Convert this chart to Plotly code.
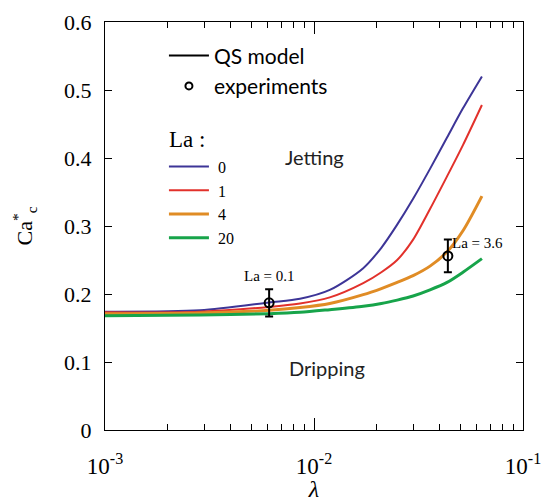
import math
import plotly.graph_objects as go

# ---- data ----
lam_grid = [0.001, 0.00285, 0.0061, 0.00857, 0.0119, 0.0172, 0.021, 0.025, 0.0298, 0.0359, 0.0433, 0.0516, 0.0636]
ca_la0 = [0.174, 0.176, 0.1875, 0.193, 0.206, 0.238, 0.268, 0.302, 0.340, 0.384, 0.430, 0.473, 0.520]
ca_la1 = [0.173, 0.174, 0.181, 0.186, 0.195, 0.216, 0.232, 0.250, 0.280, 0.325, 0.373, 0.419, 0.478]
ca_la4 = [0.171, 0.172, 0.176, 0.180, 0.186, 0.199, 0.208, 0.217, 0.227, 0.241, 0.262, 0.293, 0.344]
ca_la20 = [0.168, 0.169, 0.171, 0.173, 0.177, 0.182, 0.186, 0.191, 0.197, 0.206, 0.217, 0.232, 0.252]
la_labels = ["0", "1", "4", "20"]
colors = ["#3d3597", "#e2312b", "#e08c25", "#17a44a"]
widths = [2, 2, 3, 3]

exp_lam = [0.0061, 0.0437]
exp_ca = [0.187, 0.256]
exp_err = [0.02, 0.024]
exp_labels = ["La = 0.1", "La = 3.6"]

y_ticks = [0, 0.1, 0.2, 0.3, 0.4, 0.5, 0.6]
y_ticktext = ["0", "0.1", "0.2", "0.3", "0.4", "0.5", "0.6"]
x_ticks = [0.001, 0.01, 0.1]
x_ticktext = ["10<sup>-3</sup>", "10<sup>-2</sup>", "10<sup>-1</sup>"]
x_minor = [m * d for d in (0.001, 0.01) for m in range(2, 10)]

serif = "Liberation Serif"
sans = "Lato"

fig = go.Figure()

# legend 1 entries
fig.add_trace(go.Scatter(x=[None], y=[None], mode="lines", line=dict(color="black", width=2),
                         name="QS model", legend="legend"))
fig.add_trace(go.Scatter(x=[None], y=[None], mode="markers",
                         marker=dict(symbol="circle-open", color="black", size=7, line=dict(width=2)),
                         name="experiments", legend="legend"))

series = [ca_la0, ca_la1, ca_la4, ca_la20]
for i, (vals, lab) in enumerate(zip(series, la_labels)):
    fig.add_trace(go.Scatter(
        x=lam_grid, y=vals, mode="lines",
        line=dict(color=colors[i], width=widths[i], shape="spline", smoothing=0.8),
        name=" " + lab, legend="legend2", legendgroup="La",
        legendgrouptitle=dict(text="La :", font=dict(family=serif, size=23, color="black")) if i == 0 else None,
    ))

fig.add_trace(go.Scatter(
    x=exp_lam, y=exp_ca, mode="markers",
    marker=dict(symbol="circle-open", color="black", size=9, line=dict(width=2, color="black")),
    error_y=dict(type="data", array=exp_err, color="black", thickness=2, width=4),
    showlegend=False,
))

fig.add_annotation(x=math.log10(exp_lam[0]), y=exp_ca[0] + 0.040, text=exp_labels[0], showarrow=False,
                   xanchor="center", font=dict(family=serif, size=15, color="black"))
fig.add_annotation(x=math.log10(exp_lam[1]), y=exp_ca[1] + 0.019, text=exp_labels[1], showarrow=False,
                   xanchor="left", xshift=2, font=dict(family=serif, size=15, color="black"))

fig.add_annotation(x=-1.997, y=0.402, text="Jetting", showarrow=False,
                   font=dict(family=sans, size=20, color="#222"))
fig.add_annotation(x=-1.938, y=0.091, text="Dripping", showarrow=False,
                   font=dict(family=sans, size=20, color="#222"))

axis_common = dict(showline=True, linecolor="black", linewidth=1, mirror="ticks",
                   ticks="inside", tickcolor="black", showgrid=False, zeroline=False,
                   automargin=False)

fig.update_xaxes(type="log", range=[-3, -1], tickvals=x_ticks, ticktext=x_ticktext,
                 ticklen=12, tickwidth=1, ticklabelstandoff=15,
                 minor=dict(ticks="inside", ticklen=6, tickcolor="black", showgrid=False,
                            tickmode="array", tickvals=x_minor),
                 tickfont=dict(family=serif, size=23, color="black"),
                 title=dict(text="<i>λ</i>", font=dict(family=serif, size=24, color="black"), standoff=0),
                 **axis_common)
fig.update_yaxes(range=[0, 0.6], tickvals=y_ticks, ticktext=y_ticktext, ticklen=7,
                 ticklabelstandoff=8,
                 tickfont=dict(family=serif, size=22, color="black"),
                 title=dict(text="Ca<sup>*</sup><sub>c</sub>", font=dict(family=serif, size=22, color="black"),
                            standoff=25),
                 **axis_common)

fig.update_layout(
    width=544, height=502,
    margin=dict(l=105, r=21, t=22, b=72),
    plot_bgcolor="white", paper_bgcolor="white",
    showlegend=True,
    legend=dict(x=0.141, y=0.967, xanchor="left", yanchor="top", bgcolor="rgba(0,0,0,0)",
                font=dict(family=sans, size=21, color="black"), itemwidth=40, tracegroupgap=0),
    legend2=dict(x=0.141, y=0.768, xanchor="left", yanchor="top", bgcolor="rgba(0,0,0,0)",
                 font=dict(family=serif, size=16, color="black"), itemwidth=40, tracegroupgap=0),
)

fig.write_html("out.html", config={"displayModeBar": False},
               post_script="document.body.style.margin='0';document.body.style.padding='0';")
